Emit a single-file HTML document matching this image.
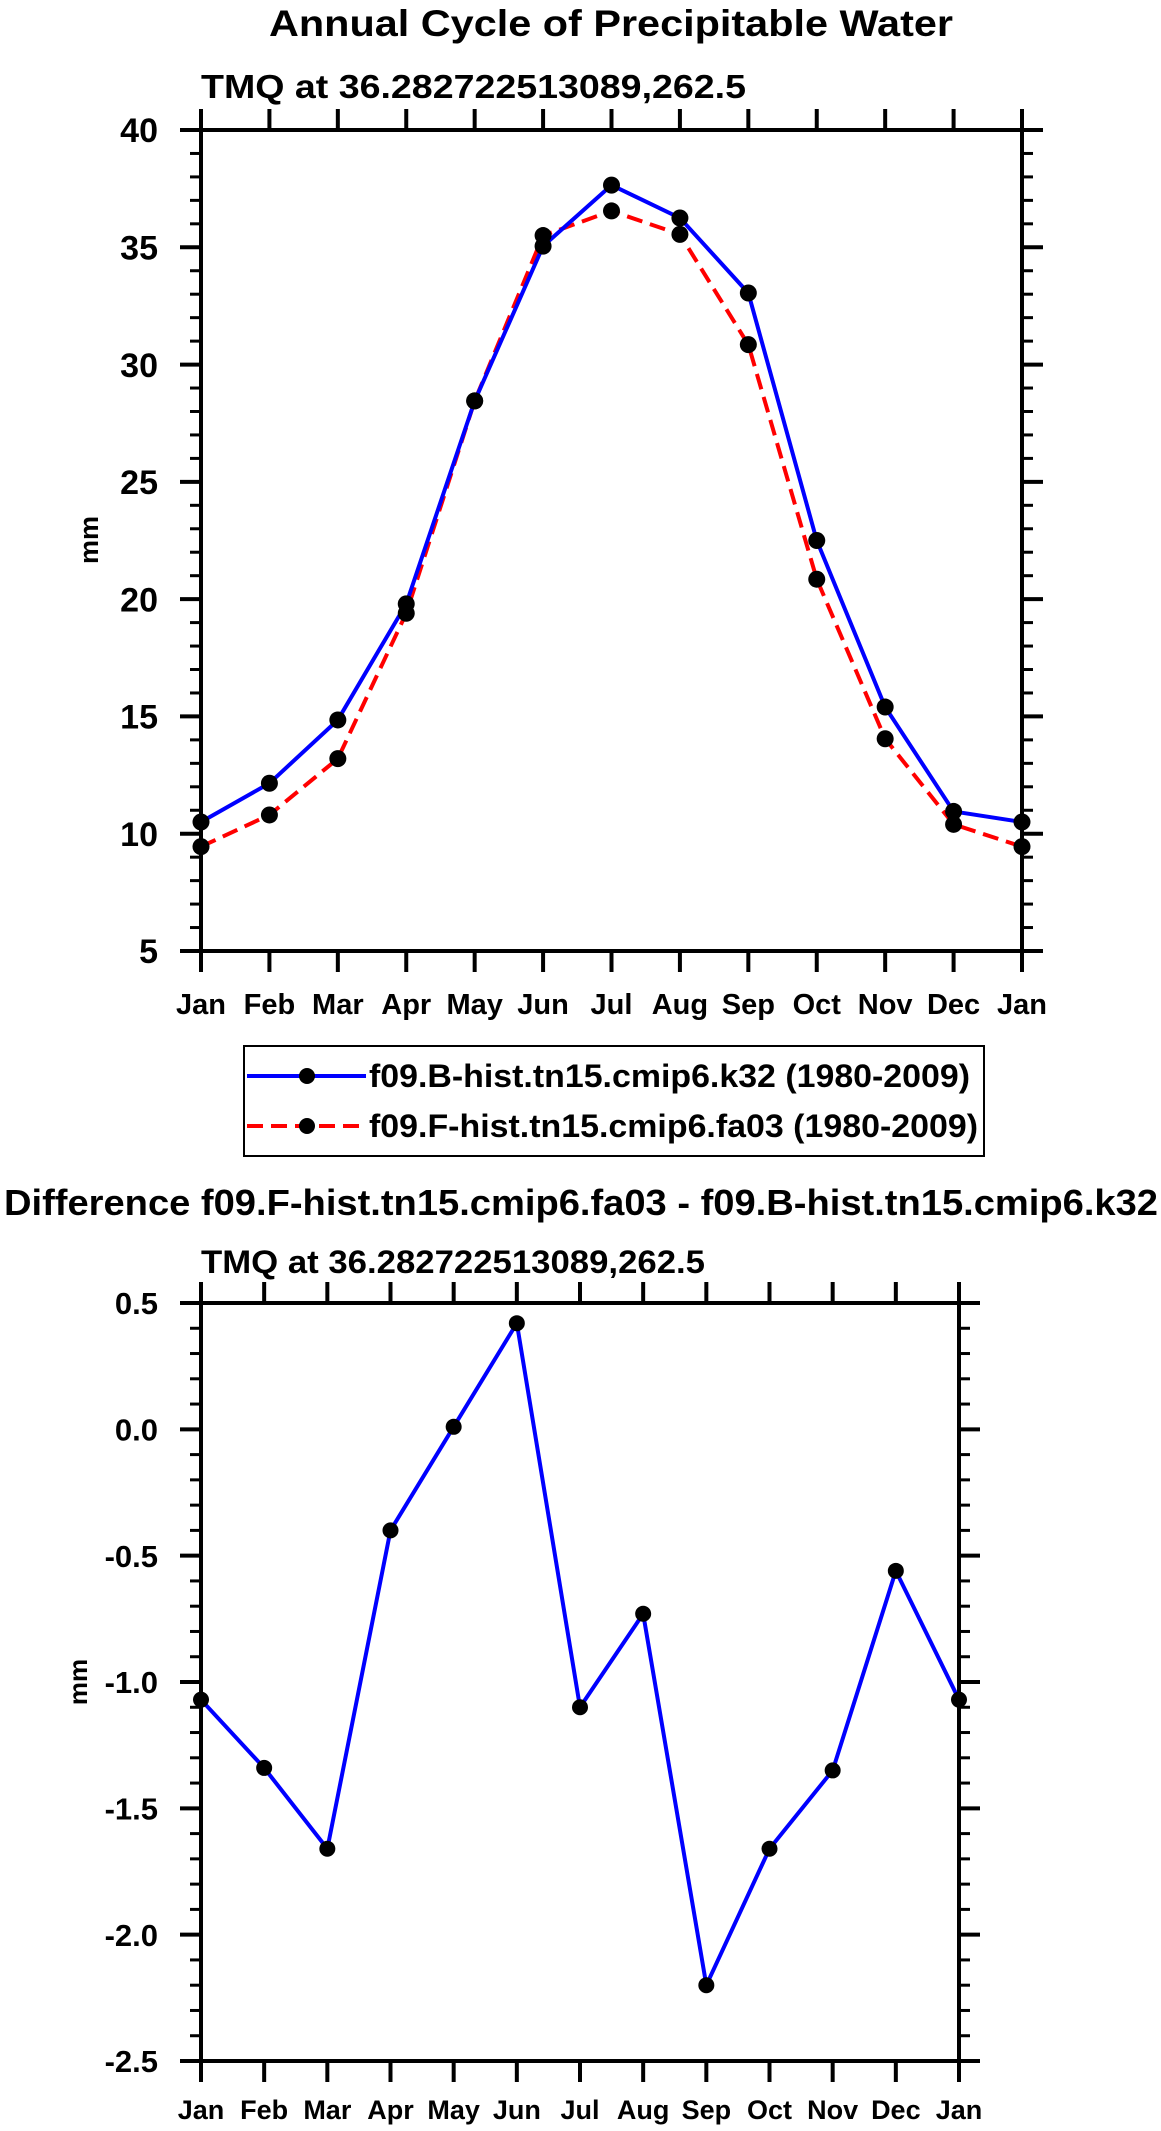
<!DOCTYPE html>
<html><head><meta charset="utf-8"><style>
html,body{margin:0;padding:0;background:#fff;}
svg{display:block;font-family:"Liberation Sans",Arial,sans-serif;font-weight:bold;}
</style></head><body>
<svg id="s" width="1161" height="2131" viewBox="0 0 1161 2131" xmlns="http://www.w3.org/2000/svg">
<text x="611" y="36" font-size="37" text-anchor="middle" textLength="684" lengthAdjust="spacingAndGlyphs">Annual Cycle of Precipitable Water</text>
<text x="201" y="98" font-size="33" textLength="545" lengthAdjust="spacingAndGlyphs">TMQ at 36.282722513089,262.5</text>
<text transform="translate(98,540) rotate(-90)" font-size="27" text-anchor="middle">mm</text>
<g id="top"></g>
<rect x="244" y="1046" width="740" height="110" fill="none" stroke="#000" stroke-width="2"/>
<g>
<line x1="247" y1="1076" x2="366" y2="1076" stroke="#0000ff" stroke-width="4"/>
<circle cx="307" cy="1076" r="8" fill="#000"/>
<text x="369" y="1087" font-size="32" textLength="601" lengthAdjust="spacingAndGlyphs">f09.B-hist.tn15.cmip6.k32 (1980-2009)</text>
</g>
<g>
<line x1="247" y1="1126" x2="366" y2="1126" stroke="#ff0000" stroke-width="4" stroke-dasharray="16,8"/>
<circle cx="307" cy="1126" r="8" fill="#000"/>
<text x="369" y="1137" font-size="32" textLength="609" lengthAdjust="spacingAndGlyphs">f09.F-hist.tn15.cmip6.fa03 (1980-2009)</text>
</g>
<text x="4" y="1215" font-size="36" textLength="1154" lengthAdjust="spacingAndGlyphs">Difference f09.F-hist.tn15.cmip6.fa03 - f09.B-hist.tn15.cmip6.k32</text>
<text x="201" y="1273" font-size="32" textLength="504" lengthAdjust="spacingAndGlyphs">TMQ at 36.282722513089,262.5</text>
<text transform="translate(87,1682) rotate(-90)" font-size="26" text-anchor="middle">mm</text>
<g id="bot"></g>
</svg>
<script>
const months = ["Jan","Feb","Mar","Apr","May","Jun","Jul","Aug","Sep","Oct","Nov","Dec","Jan"];
const seriesB = [10.5,12.15,14.85,19.8,28.45,35.05,37.65,36.25,33.05,22.5,15.4,10.95,10.5];
const seriesF = [9.45,10.8,13.2,19.4,28.45,35.5,36.55,35.55,30.85,20.85,14.05,10.4,9.45];
const seriesDiff = [-1.07,-1.34,-1.66,-0.40,0.01,0.42,-1.10,-0.73,-2.20,-1.66,-1.35,-0.56,-1.07];
const topYTicks = [5,10,15,20,25,30,35,40];
const diffYTicks = ["-2.5","-2.0","-1.5","-1.0","-0.5","0.0","0.5"];
const NS = "http://www.w3.org/2000/svg";
function mk(parent, tag, attrs, txt){
  const e = document.createElementNS(NS, tag);
  for (const k in attrs) e.setAttribute(k, attrs[k]);
  if (txt !== undefined) e.textContent = txt;
  parent.appendChild(e);
  return e;
}
function drawPlot(g, L, R, T, B, ymin, ymax, minorStep, yTicks, yLabels, series, yfs, mfs, mBase, r){
  const xs = i => L + (R - L) * i / (months.length - 1);
  const ys = v => B - (B - T) * (v - ymin) / (ymax - ymin);
  const nMinor = Math.round((ymax - ymin) / minorStep);
  for (let k = 0; k <= nMinor; k++) {
    const y = ys(ymin + k * minorStep);
    const t1 = mk(g, "line", {x1: L - 11, x2: L, y1: y, y2: y, stroke: "#000", "stroke-width": 3});
    
    
    const t2 = mk(g, "line", {x1: R, x2: R + 11, y1: y, y2: y, stroke: "#000", "stroke-width": 3});
    
    
  }
  yTicks.forEach((v, i) => {
    const y = ys(v);
    const a = mk(g, "line", {x1: L - 21, x2: L, y1: y, y2: y, stroke: "#000", "stroke-width": 4});
    
    
    const b = mk(g, "line", {x1: R, x2: R + 21, y1: y, y2: y, stroke: "#000", "stroke-width": 4});
    
    
    const t = mk(g, "text", {x: L - 43, y: y + yfs * 0.36, "font-size": yfs, "text-anchor": "end"}, yLabels[i]);
    
    
  });
  months.forEach((m, i) => {
    const x = xs(i);
    const a = mk(g, "line", {x1: x, x2: x, y1: B, y2: B + 21, stroke: "#000", "stroke-width": 4});
    
    
    const b = mk(g, "line", {x1: x, x2: x, y1: T - 21, y2: T, stroke: "#000", "stroke-width": 4});
    
    
    const t = mk(g, "text", {x: x, y: mBase, "font-size": mfs, "text-anchor": "middle"}, m);
    
    
  });
  const fr = mk(g, "rect", {x: L, y: T, width: R - L, height: B - T, fill: "none", stroke: "#000", "stroke-width": 4});
  
  
  series.forEach(s => {
    const pts = s.vals.map((v, i) => xs(i) + "," + ys(v)).join(" ");
    const pl = mk(g, "polyline", {points: pts, fill: "none", stroke: s.color, "stroke-width": 4, "stroke-dasharray": s.dash || "none"});
    
    
  });
  series.forEach(s => {
    s.vals.forEach((v, i) => {
      const c = mk(g, "circle", {cx: xs(i), cy: ys(v), r: r, fill: "#000"});
      
      
    });
  });
}
drawPlot(document.getElementById("top"), 201, 1022, 130, 951, 5, 40, 1, topYTicks, topYTicks.map(String),
  [{vals: seriesF, color: "#ff0000", dash: "16,8", name: "series-f"}, {vals: seriesB, color: "#0000ff", name: "series-b"}],
  34, 29, 1014, 8.5);
drawPlot(document.getElementById("bot"), 201, 959, 1303, 2061, -2.5, 0.5, 0.1, diffYTicks.map(Number), diffYTicks,
  [{vals: seriesDiff, color: "#0000ff", name: "series-diff"}],
  31, 27, 2119, 8);
</script>
</body></html>
